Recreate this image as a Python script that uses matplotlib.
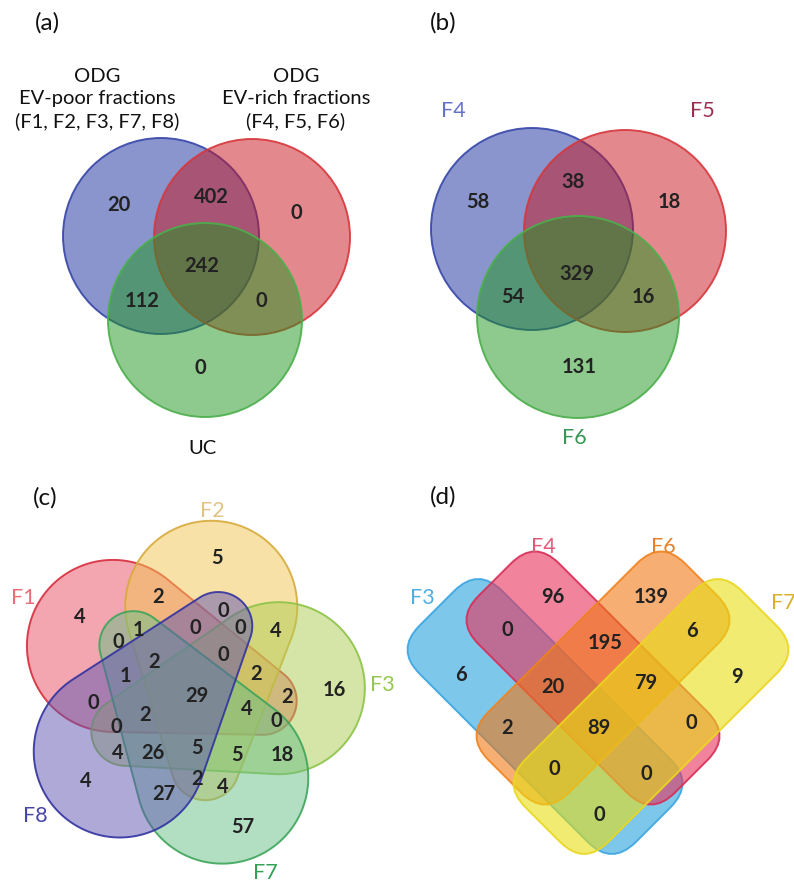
import numpy as np
import matplotlib
matplotlib.use("Agg")
import matplotlib.pyplot as plt
from matplotlib.patches import Circle, Polygon, FancyBboxPatch
from matplotlib.transforms import Affine2D

plt.rcParams['font.family'] = ['Lato', 'DejaVu Sans']

W, H = 794, 884

# ---------------- data ----------------
# (a) three groups
a_names = ["ODG\nEV-poor fractions\n(F1, F2, F3, F7, F8)", "ODG\nEV-rich fractions\n(F4, F5, F6)", "UC"]
# regions: A, A&B, B, A&B&C, A&C, B&C, C
a_counts = [20, 402, 0, 242, 112, 0, 0]

# (b) EV-rich fractions
b_names = ["F4", "F5", "F6"]
b_counts = [58, 38, 18, 329, 54, 16, 131]

# (c) EV-poor fractions
c_names = ["F1", "F2", "F3", "F7", "F8"]
c_counts = [4, 2, 5, 0, 0, 0, 4, 0, 1, 2, 0, 2, 1, 16, 2, 29,
            0, 4, 2, 0, 0, 4, 26, 5, 5, 18, 4, 2, 4, 27, 57]

# (d) F3, F4, F6, F7
d_names = ["F3", "F4", "F6", "F7"]
d_counts = [6, 96, 139, 9, 0, 195, 6, 20, 79, 2, 89, 0, 0, 0, 0]

# ---------------- layout (pixels of the page) ----------------
a_circles = [(161, 236, 98), (252, 237, 98), (205, 320, 97)]
a_count_xy = [(119, 205), (211, 197), (296, 213), (202, 266), (142, 301), (261, 301), (200, 368)]
a_name_xy = [(97, 99), (296, 99), (203, 448)]

b_circles = [(532, 229, 101), (625, 231, 101), (578, 317, 101)]
b_count_xy = [(478, 202), (573, 182), (669, 202), (577, 274), (513, 297), (643, 297), (579, 367)]
b_name_xy = [(453, 111), (702, 111), (574, 438)]

c_centre = (189, 694)
c_angle = {"F2": 75.7, "F3": 3.7, "F7": -68.3, "F8": -140.3, "F1": 147.7}
c_count_xy = [(80, 617), (158, 597), (217, 558), (223, 611), (195, 628), (240, 628), (276, 631),
              (118, 642), (138, 630), (154, 662), (223, 655), (256, 674), (125, 676), (334, 690),
              (287, 697), (197, 696), (93, 703), (247, 709), (145, 715), (276, 721), (116, 727),
              (118, 753), (153, 753), (197, 748), (237, 755), (282, 755), (86, 781), (197, 779),
              (223, 787), (164, 794), (243, 827)]
c_name_xy = [(23, 598), (212, 511), (382, 685), (265, 873), (35, 816)]

d_boxes = [(545, 716.5, 306, 117, 45), (593, 678, 278, 114, 45),
           (603, 678, 278, 114, -45), (651, 716.5, 306, 117, -45)]
d_count_xy = [(461, 675), (553, 597), (651, 597), (737, 677), (507, 630), (605, 643), (692, 631),
              (553, 687), (646, 683), (507, 728), (599, 728), (691, 723), (554, 769), (646, 774),
              (599, 815)]
d_name_xy = [(422, 598), (543, 547), (663, 547), (783, 603)]


def rgb(r, g, b, a=1.0):
    return (r / 255, g / 255, b / 255, a)


ab_face = [rgb(20, 45, 155, .5), rgb(200, 20, 30, .5), rgb(30, 150, 30, .5)]
ab_edge = [rgb(55, 70, 170, .9), rgb(215, 55, 60, .9), rgb(75, 175, 75, .9)]
b_label_col = [rgb(100, 115, 200), rgb(160, 45, 80), rgb(55, 150, 85)]

c_face = [rgb(233, 79, 97, .5), rgb(243, 197, 81, .5), rgb(173, 205, 81, .5),
          rgb(103, 191, 135, .5), rgb(95, 85, 177, .5)]
c_edge = [rgb(215, 45, 60, .9), rgb(215, 170, 60, .9), rgb(140, 195, 70, .9),
          rgb(60, 165, 90, .9), rgb(50, 50, 160, .9)]
c_label_col = [rgb(232, 110, 120), rgb(225, 195, 130), rgb(150, 200, 80),
               rgb(50, 160, 85), rgb(70, 70, 165)]

d_face = [rgb(38, 163, 222, .6), rgb(232, 50, 90, .6), rgb(240, 120, 20, .6), rgb(232, 222, 20, .6)]
d_edge = [rgb(60, 165, 225, .9), rgb(215, 45, 85, .9), rgb(240, 130, 30, .9), rgb(235, 215, 30, .9)]
d_label_col = [rgb(80, 175, 225), rgb(225, 90, 120), rgb(230, 130, 40), rgb(215, 175, 40)]

NUM = dict(fontsize=14.5, fontweight='bold', color='#222222', ha='center', va='center')
LAB = dict(fontsize=15.5, ha='center', va='center')


def blob(theta):
    # big circle + small tip, joined by their common tangents
    t = np.radians(theta)
    c1 = np.array([90 * np.cos(t), 90 * np.sin(t)])
    t2 = t + np.radians(207)
    c2 = np.array([74 * np.cos(t2), 74 * np.sin(t2)])
    R, r = 86, 34
    d = c2 - c1
    dist = np.hypot(*d)
    phi = np.arctan2(d[1], d[0])
    beta = np.arccos((R - r) / dist)
    a1 = np.linspace(phi + beta, phi + 2 * np.pi - beta, 200)
    a2 = np.linspace(phi - beta, phi + beta, 80)
    pts = np.vstack([np.column_stack([c1[0] + R * np.cos(a1), c1[1] + R * np.sin(a1)]),
                     np.column_stack([c2[0] + r * np.cos(a2), c2[1] + r * np.sin(a2)])])
    # local y-up -> page pixels
    return np.column_stack([c_centre[0] + pts[:, 0], c_centre[1] - pts[:, 1]])


fig = plt.figure(figsize=(W / 100, H / 100), dpi=100)
ax = fig.add_axes([0, 0, 1, 1])
ax.set_xlim(0, W)
ax.set_ylim(H, 0)
ax.axis('off')

# panel letters
for s, (x, y) in zip(["(a)", "(b)", "(c)", "(d)"], [(47, 23), (443, 23), (45, 498), (443, 497)]):
    ax.text(x, y, s, fontsize=17.5, ha='center', va='center', color='#111111')

# (a)
for (x, y, r), fc, ec in zip(a_circles, ab_face, ab_edge):
    ax.add_patch(Circle((x, y), r, facecolor=fc, edgecolor=ec, lw=1.4))
for n, (x, y) in zip(a_counts, a_count_xy):
    ax.text(x, y, str(n), **NUM)
for s, (x, y) in zip(a_names, a_name_xy):
    ax.text(x, y, s, fontsize=14.5, ha='center', va='center', color='#111111', linespacing=1.38)

# (b)
for (x, y, r), fc, ec in zip(b_circles, ab_face, ab_edge):
    ax.add_patch(Circle((x, y), r, facecolor=fc, edgecolor=ec, lw=1.4))
for n, (x, y) in zip(b_counts, b_count_xy):
    ax.text(x, y, str(n), **NUM)
for s, (x, y), col in zip(b_names, b_name_xy, b_label_col):
    ax.text(x, y, s, color=col, **LAB)

# (c)
for name, fc, ec in zip(c_names, c_face, c_edge):
    ax.add_patch(Polygon(blob(c_angle[name]), closed=True, facecolor=fc, edgecolor=ec, lw=1.4))
for n, (x, y) in zip(c_counts, c_count_xy):
    ax.text(x, y, str(n), **NUM)
for s, (x, y), col in zip(c_names, c_name_xy, c_label_col):
    ax.text(x, y, s, color=col, **LAB)

# (d)
for (x, y, L, w, ang), fc, ec in zip(d_boxes, d_face, d_edge):
    box = FancyBboxPatch((x - L / 2, y - w / 2), L, w, boxstyle="round,pad=0,rounding_size=34",
                         facecolor=fc, edgecolor=ec, lw=1.4)
    box.set_transform(Affine2D().rotate_deg_around(x, y, ang) + ax.transData)
    ax.add_patch(box)
for n, (x, y) in zip(d_counts, d_count_xy):
    ax.text(x, y, str(n), **NUM)
for s, (x, y), col in zip(d_names, d_name_xy, d_label_col):
    ax.text(x, y, s, color=col, **LAB)

fig.savefig("out.png", dpi=100, facecolor='white')
